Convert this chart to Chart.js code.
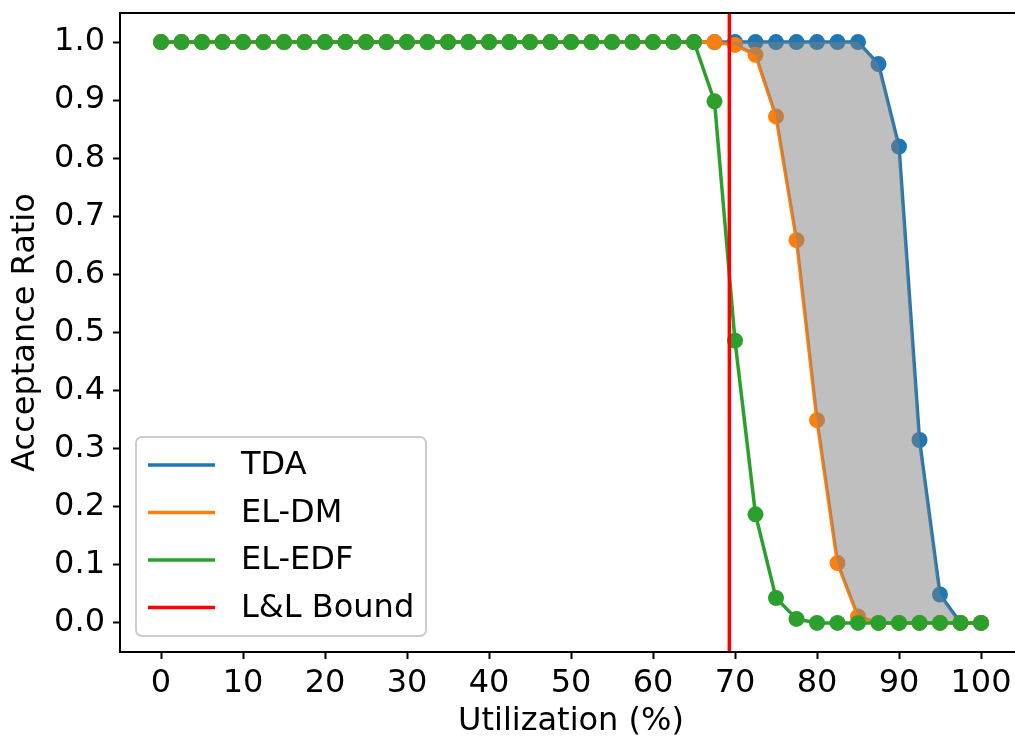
<!DOCTYPE html>
<html>
<head>
<meta charset="utf-8">
<script src="https://cdn.jsdelivr.net/npm/chart.js@4/dist/chart.umd.min.js"></script>
<style>
  html, body { margin: 0; padding: 0; background: #fff; overflow: hidden; }
  #wrap { width: 1030px; height: 738px; }
</style>
</head>
<body>
<div id="wrap"><canvas id="chart" width="1030" height="738"></canvas></div>
<script>
(function () {
  "use strict";

  var utilization = [
    0, 2.5, 5, 7.5, 10, 12.5, 15, 17.5, 20, 22.5,
    25, 27.5, 30, 32.5, 35, 37.5, 40, 42.5, 45, 47.5,
    50, 52.5, 55, 57.5, 60, 62.5, 65, 67.5, 70, 72.5,
    75, 77.5, 80, 82.5, 85, 87.5, 90, 92.5, 95, 97.5, 100
  ];

  var tdaRatio = [
    1, 1, 1, 1, 1, 1, 1, 1, 1, 1,
    1, 1, 1, 1, 1, 1, 1, 1, 1, 1,
    1, 1, 1, 1, 1, 1, 1, 1, 1, 1,
    1, 1, 1, 1, 1, 0.962, 0.820, 0.315, 0.049, 0, 0
  ];

  var elDmRatio = [
    1, 1, 1, 1, 1, 1, 1, 1, 1, 1,
    1, 1, 1, 1, 1, 1, 1, 1, 1, 1,
    1, 1, 1, 1, 1, 1, 1, 1, 0.995, 0.978,
    0.872, 0.659, 0.349, 0.103, 0.011, 0, 0, 0, 0, 0, 0
  ];

  var elEdfRatio = [
    1, 1, 1, 1, 1, 1, 1, 1, 1, 1,
    1, 1, 1, 1, 1, 1, 1, 1, 1, 1,
    1, 1, 1, 1, 1, 1, 1, 0.898, 0.486, 0.187,
    0.043, 0.007, 0, 0, 0, 0, 0, 0, 0, 0, 0
  ];

  // Liu & Layland utilization bound for large task sets (ln 2)
  var llBound = 69.31;

  var seriesNames = ["TDA", "EL-DM", "EL-EDF", "L&L Bound"];
  var seriesColors = ["#1f77b4", "#ff7f0e", "#2ca02c", "#ff0000"];

  var xTicks = [0, 10, 20, 30, 40, 50, 60, 70, 80, 90, 100];
  var yTicks = [0, 0.1, 0.2, 0.3, 0.4, 0.5, 0.6, 0.7, 0.8, 0.9, 1.0];

  var xRange = [-5, 105];
  var yRange = [-0.05, 1.05];

  var FONT = "'DejaVu Sans', sans-serif";
  Chart.defaults.font.family = FONT;
  Chart.defaults.font.size = 32;
  Chart.defaults.color = "#000";

  function toPoints(values) {
    return values.map(function (v, i) {
      return { x: utilization[i], y: v };
    });
  }

  function series(label, values, color, order) {
    return {
      label: label,
      data: toPoints(values),
      borderColor: color,
      backgroundColor: color,
      borderWidth: 3.5,
      pointRadius: 8,
      pointBorderWidth: 0,
      pointBackgroundColor: color,
      fill: false,
      order: order,
    };
  }

  // axes box: spines all round, right one sits past the canvas edge
  var framePlugin = {
    id: "frame",
    afterDatasetsDraw: function (chart) {
      var a = chart.chartArea;
      var ctx = chart.ctx;
      ctx.save();
      ctx.strokeStyle = "#000";
      ctx.lineWidth = 2;
      ctx.strokeRect(a.left, a.top, a.right - a.left, a.bottom - a.top);
      ctx.restore();
    },
  };

  // boxed legend in the lower-left corner of the plot
  var boxLegendPlugin = {
    id: "boxLegend",
    afterDraw: function (chart) {
      var a = chart.chartArea;
      var ctx = chart.ctx;
      var w = 290, h = 199, r = 6;
      var x = a.left + 16, y = a.bottom - 16 - h;
      ctx.save();
      ctx.beginPath();
      ctx.roundRect(x, y, w, h, r);
      ctx.fillStyle = "rgba(255,255,255,0.8)";
      ctx.fill();
      ctx.strokeStyle = "#cccccc";
      ctx.lineWidth = 2;
      ctx.stroke();

      ctx.font = "32px " + FONT;
      ctx.textBaseline = "middle";
      ctx.textAlign = "left";
      for (var i = 0; i < seriesNames.length; i++) {
        var rowY = y + 28 + i * 47.5;
        ctx.beginPath();
        ctx.moveTo(x + 12, rowY);
        ctx.lineTo(x + 79, rowY);
        ctx.strokeStyle = seriesColors[i];
        ctx.lineWidth = 3.5;
        ctx.stroke();
        ctx.fillStyle = "#000";
        ctx.fillText(seriesNames[i], x + 105, rowY + 1);
      }
      ctx.restore();
    },
  };

  var canvas = document.getElementById("chart");

  new Chart(canvas, {
    type: "line",
    data: {
      datasets: [
        series(seriesNames[0], tdaRatio, seriesColors[0], 4),
        series(seriesNames[1], elDmRatio, seriesColors[1], 3),
        {
          // shaded gap between EL-DM and TDA
          label: "gap",
          data: toPoints(elDmRatio),
          borderWidth: 0,
          borderColor: "rgba(0,0,0,0)",
          pointRadius: 0,
          backgroundColor: "rgba(128,128,128,0.5)",
          fill: { target: 0 },
          order: 2,
        },
        series(seriesNames[2], elEdfRatio, seriesColors[2], 1),
        {
          label: seriesNames[3],
          data: [
            { x: llBound, y: yRange[0] },
            { x: llBound, y: yRange[1] },
          ],
          borderColor: seriesColors[3],
          borderWidth: 3.5,
          pointRadius: 0,
          fill: false,
          order: 0,
        },
      ],
    },
    options: {
      responsive: false,
      animation: false,
      events: [],
      layout: { padding: { left: 0, top: 13, right: 8, bottom: 0 } },
      plugins: {
        legend: { display: false },
        tooltip: { enabled: false },
        filler: { drawTime: "beforeDatasetDraw" },
      },
      scales: {
        x: {
          type: "linear",
          min: xRange[0],
          max: xRange[1],
          afterBuildTicks: function (scale) {
            scale.ticks = xTicks.map(function (v) { return { value: v }; });
          },
          afterFit: function (scale) {
            scale.height = 86;
            scale.paddingLeft = 0;
            scale.paddingRight = 0;
          },
          ticks: {
            padding: 5,
            maxRotation: 0,
            autoSkip: false,
            color: "#000",
            font: { size: 32 },
          },
          grid: {
            drawOnChartArea: false,
            drawTicks: true,
            tickLength: 7,
            tickWidth: 2,
            tickColor: "#000",
          },
          border: { display: false },
          title: {
            display: true,
            text: "Utilization (%)",
            color: "#000",
            font: { size: 32, lineHeight: 1 },
            padding: { top: 0, bottom: 0 },
          },
        },
        y: {
          type: "linear",
          min: yRange[0],
          max: yRange[1],
          afterBuildTicks: function (scale) {
            scale.ticks = yTicks.map(function (v) { return { value: v }; });
          },
          afterFit: function (scale) {
            scale.width = 120;
            scale.paddingTop = 0;
            scale.paddingBottom = 0;
          },
          ticks: {
            padding: 8,
            autoSkip: false,
            color: "#000",
            font: { size: 32 },
            callback: function (v) { return v.toFixed(1); },
          },
          grid: {
            drawOnChartArea: false,
            drawTicks: true,
            tickLength: 7,
            tickWidth: 2,
            tickColor: "#000",
          },
          border: { display: false },
          title: {
            display: true,
            text: "Acceptance Ratio",
            color: "#000",
            font: { size: 32, lineHeight: 1 },
            padding: { top: 10, bottom: 0 },
          },
        },
      },
    },
    plugins: [framePlugin, boxLegendPlugin],
  });
})();
</script>
</body>
</html>
